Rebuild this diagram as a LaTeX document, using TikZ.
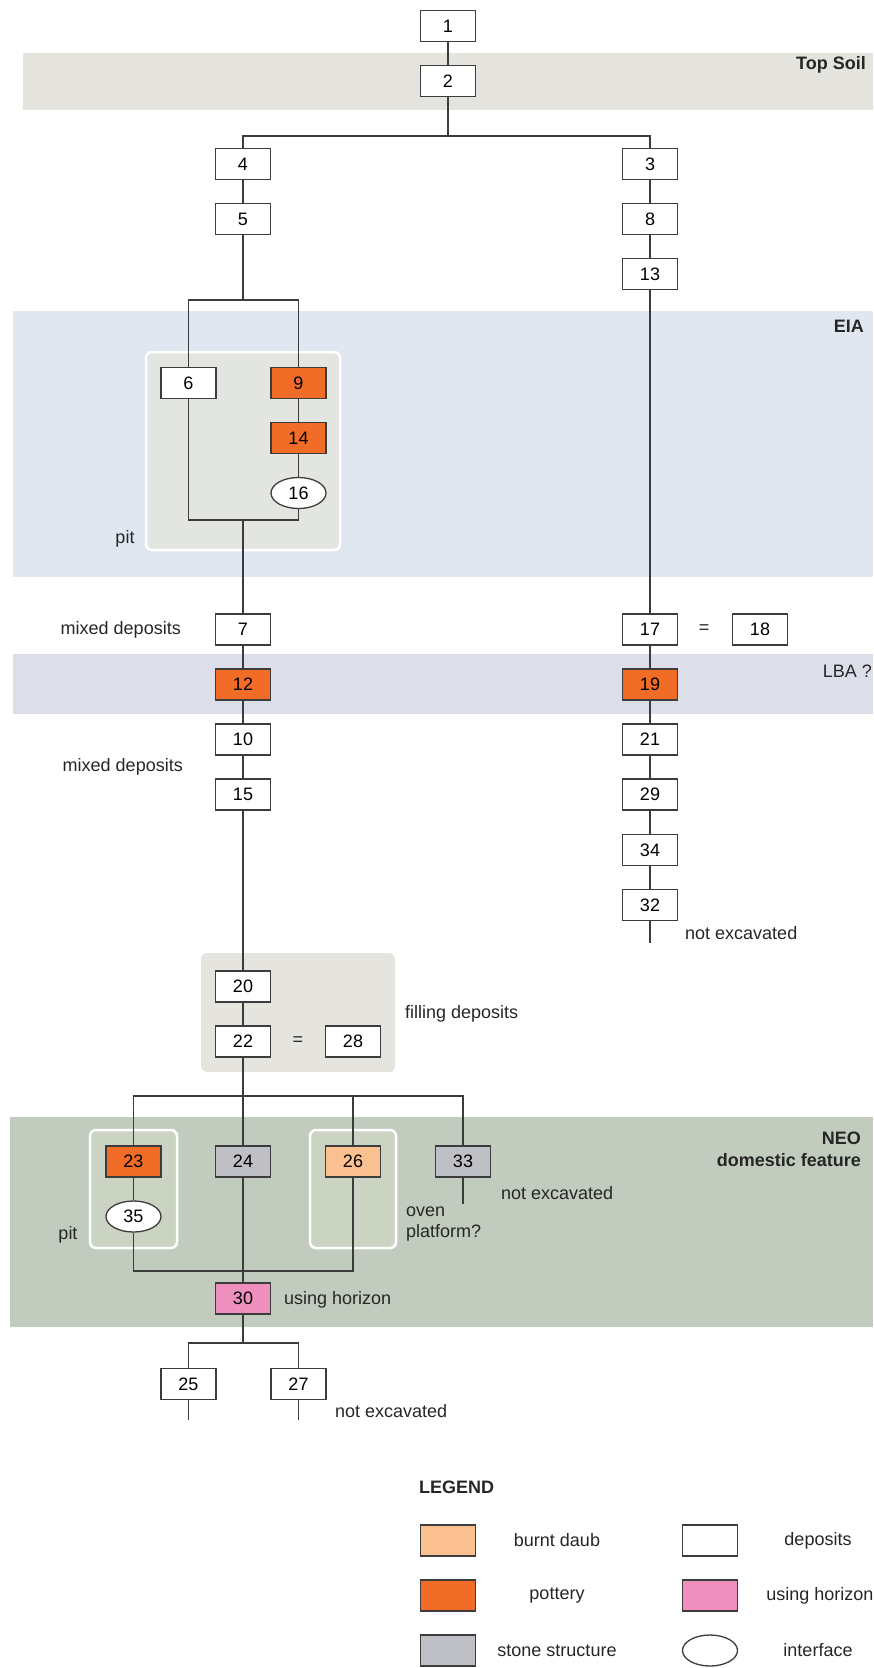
\documentclass[tikz,border=0pt]{standalone}
\usepackage{fontspec}
\setmainfont{Liberation Sans}
\usetikzlibrary{shapes.geometric}

\definecolor{potteryc}{RGB}{241,108,39}
\definecolor{daubc}{RGB}{250,192,143}
\definecolor{stonec}{RGB}{190,192,197}
\definecolor{horizonc}{RGB}{238,143,190}
\definecolor{topsoilc}{RGB}{228,227,222}
\definecolor{eiac}{RGB}{225,231,241}
\definecolor{lbac}{RGB}{220,222,234}
\definecolor{neoc}{RGB}{193,204,190}
\definecolor{pitc}{RGB}{227,230,224}
\definecolor{fillingc}{RGB}{230,228,222}
\definecolor{insetc}{RGB}{203,211,195}
\definecolor{linec}{RGB}{60,60,60}

\tikzset{
    unit/.style={rectangle,draw=linec,line width=1.3pt,fill=white,minimum width=55pt,minimum height=31pt,inner sep=0pt},
    pottery/.style={unit,fill=potteryc},
    daub/.style={unit,fill=daubc},
    stone/.style={unit,fill=stonec},
    horizon/.style={unit,fill=horizonc},
    iface/.style={unit,ellipse},
    link/.style={draw=linec,line width=1.3pt},
    txt/.style={inner sep=0pt,text=black!85},
    period/.style={inner sep=0pt,anchor=east,text=black!85,font=\fontsize{18}{21}\selectfont\bfseries},
    inset/.style={draw=white,line width=2.5pt,rounded corners=6pt},
}

\begin{document}
\begin{tikzpicture}[x=1pt,y=-1pt,font=\fontsize{18}{21}\selectfont]
    \useasboundingbox (0,0) rectangle (873,1668);

    \fill[topsoilc] (23,53) rectangle (873,110);
    \fill[eiac] (13,311) rectangle (873,577);
    \fill[lbac] (13,654) rectangle (873,714);
    \fill[neoc] (10,1117) rectangle (873,1327);

    \draw[inset,fill=pitc] (146,352) rectangle (340,550);
    \fill[fillingc,rounded corners=6pt] (201,953) rectangle (395,1072);
    \draw[inset,fill=insetc] (90,1130) rectangle (177,1248);
    \draw[inset,fill=insetc] (310,1130) rectangle (396,1248);

    \node[period] (topsoil) at (866,65) {Top Soil};
    \node[period] (eia) at (864,326) {EIA};
    \node[txt,anchor=east] (lba) at (872,671) {LBA ?};
    \node[period] (neo) at (861,1138) {NEO};
    \node[period] (domestic) at (861,1160) {domestic feature};

    \node[unit] (n1) at (448, 26) {1};
    \node[unit] (n2) at (448, 81) {2};
    \node[unit] (n4) at (243, 164) {4};
    \node[unit] (n3) at (650, 164) {3};
    \node[unit] (n5) at (243, 219) {5};
    \node[unit] (n8) at (650, 219) {8};
    \node[unit] (n13) at (650, 274) {13};

    \node[unit] (n6) at (188.5, 383) {6};
    \node[pottery] (n9) at (298.5, 383) {9};
    \node[pottery] (n14) at (298.5, 438) {14};
    \node[iface] (n16) at (298.5, 493) {16};
    \node[txt] (pit1) at (125, 539) {pit};

    \node[unit] (n7) at (243, 629.5) {7};
    \node[unit] (n17) at (650, 629.5) {17};
    \node[txt] (eq1) at (704, 629.5) {=};
    \node[unit] (n18) at (760, 629.5) {18};
    \node[txt,anchor=east] (mixed1) at (181, 629.5) {mixed deposits};

    \node[pottery] (n12) at (243, 684.5) {12};
    \node[pottery] (n19) at (650, 684.5) {19};

    \node[unit] (n10) at (243, 739.5) {10};
    \node[unit] (n21) at (650, 739.5) {21};
    \node[unit] (n15) at (243, 794.5) {15};
    \node[unit] (n29) at (650, 794.5) {29};
    \node[txt,anchor=east] (mixed2) at (183, 767) {mixed deposits};
    \node[unit] (n34) at (650, 850) {34};
    \node[unit] (n32) at (650, 905) {32};
    \node[txt,anchor=west] (noex1) at (685, 933) {not excavated};

    \node[unit] (n20) at (243, 986.5) {20};
    \node[unit] (n22) at (243, 1041.5) {22};
    \node[txt] (eq2) at (298, 1041.5) {=};
    \node[unit] (n28) at (353, 1041.5) {28};
    \node[txt,anchor=west] (filling) at (405, 1014) {filling deposits};

    \node[pottery] (n23) at (133.5, 1161.5) {23};
    \node[stone] (n24) at (243, 1161.5) {24};
    \node[daub] (n26) at (353, 1161.5) {26};
    \node[stone] (n33) at (463, 1161.5) {33};
    \node[iface] (n35) at (133.5, 1216.5) {35};
    \node[txt] (pit2) at (68, 1235) {pit};
    \node[txt,anchor=west,align=left] (oven) at (406, 1224) {oven\\platform?};
    \node[txt,anchor=west] (noex2) at (501, 1193) {not excavated};

    \node[horizon] (n30) at (243, 1298.5) {30};
    \node[txt,anchor=west] (using) at (284, 1300) {using horizon};

    \node[unit] (n25) at (188.5, 1384) {25};
    \node[unit] (n27) at (298.5, 1384) {27};
    \node[txt,anchor=west] (noex3) at (335, 1411) {not excavated};

    \coordinate (b1) at (448, 136);
    \coordinate (b2) at (243, 300);
    \coordinate (b3) at (243, 520);
    \coordinate (b4) at (243, 1096);
    \coordinate (b5) at (243, 1271);
    \coordinate (b6) at (243, 1343);
    \coordinate (e32) at (650, 943);
    \coordinate (e33) at (463, 1204);
    \coordinate (e25) at (188.5, 1420);
    \coordinate (e27) at (298.5, 1420);

    \draw[link] (n1) -- (n2) -- (b1);
    \draw[link] (n4) |- (b1) -| (n3);
    \draw[link] (n4) -- (n5) -- (b2);
    \draw[link] (n3) -- (n8) -- (n13) -- (n17);
    \draw[link] (n6) |- (b2) -| (n9);
    \draw[link] (n9) -- (n14) -- (n16);
    \draw[link] (n6) |- (b3) -| (n16);
    \draw[link] (b3) -- (n7) -- (n12) -- (n10) -- (n15) -- (n20) -- (n22);
    \draw[link] (n17) -- (n19) -- (n21) -- (n29) -- (n34) -- (n32) -- (e32);
    \draw[link] (n22) -- (n24);
    \draw[link] (n23) |- (b4) -| (n33);
    \draw[link] (n26) -- (n26 |- b4);
    \draw[link] (n33) -- (e33);
    \draw[link] (n23) -- (n35);
    \draw[link] (n35) |- (b5) -| (n26);
    \draw[link] (n24) -- (n30) -- (b6);
    \draw[link] (n25) |- (b6) -| (n27);
    \draw[link] (n25) -- (e25);
    \draw[link] (n27) -- (e27);

    \node[period,anchor=west] (legend) at (419, 1487) {LEGEND};
    \node[daub] (keydaub) at (448, 1540.5) {};
    \node[pottery] (keypottery) at (448, 1595.5) {};
    \node[stone] (keystone) at (448, 1650.5) {};
    \node[unit] (keydeposit) at (710, 1540.5) {};
    \node[horizon] (keyhorizon) at (710, 1595.5) {};
    \node[iface] (keyiface) at (710, 1650.5) {};
    \node[txt] (ldaub) at (557, 1540.5) {burnt daub};
    \node[txt] (lpottery) at (557, 1595.5) {pottery};
    \node[txt] (lstone) at (557, 1650.5) {stone structure};
    \node[txt] (ldeposit) at (818, 1540.5) {deposits};
    \node[txt] (lhorizon) at (820, 1595.5) {using horizon};
    \node[txt] (liface) at (818, 1650.5) {interface};
\end{tikzpicture}
\end{document}
